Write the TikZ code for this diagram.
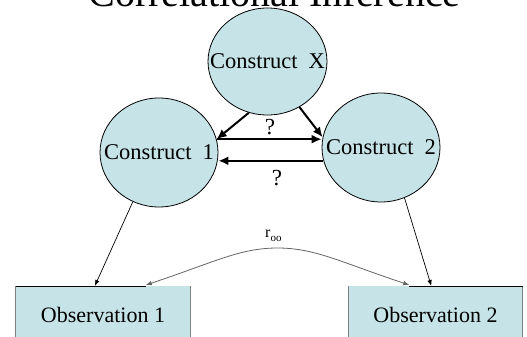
\documentclass[tikz,border=0pt]{standalone}
\usepackage{fontspec}
\setmainfont{Liberation Serif}
\usetikzlibrary{shapes.geometric,arrows.meta,calc}
\definecolor{boxfill}{RGB}{198,228,232}
\definecolor{curvegray}{RGB}{100,100,100}
\definecolor{edgegray}{RGB}{128,128,128}
\begin{document}
\begin{tikzpicture}[x=1pt,y=-1pt,
  construct/.style={ellipse,draw=black,line width=0.8pt,fill=boxfill,inner sep=0pt,
    font=\fontsize{22.5}{24}\selectfont},
  obsbox/.style={rectangle,fill=boxfill,inner sep=0pt,anchor=north,
    minimum width=174pt,minimum height=58pt,font=\fontsize{22}{24}\selectfont},
  bigarrow/.style={line width=2pt,-{Latex[length=10pt,width=9pt]}},
  thinarrow/.style={line width=0.7pt,-{Latex[length=6pt,width=4.5pt]}},
  qlabel/.style={font=\fontsize{23}{24}\selectfont,inner sep=0pt}]
\useasboundingbox (0,0) rectangle (527,337);
\clip (0,0) rectangle (527,337);

\node[anchor=base,font=\fontsize{40}{44}\selectfont,inner sep=0pt] (title) at (274.5,7) {Correlational Inference};

\node[construct,minimum width=119pt,minimum height=107pt] (X) at (267.5,61.5) {\makebox[0pt]{Construct\ \ X}};
\node[construct,minimum width=118pt,minimum height=109pt] (C1) at (159,152.5) {\makebox[0pt]{Construct\ \ 1}};
\node[construct,minimum width=118pt,minimum height=109pt] (C2) at (381,147.5) {\makebox[0pt]{Construct\ \ 2}};

\node[obsbox] (O1) at (103,286) {Observation 1};
\node[obsbox] (O2) at (435.5,286) {Observation 2};

% box edges
\draw[edgegray,line width=0.8pt] (O1.north west) -- (O1.south west);
\draw[edgegray,line width=0.8pt] (O1.north east) -- (O1.south east);
\draw[edgegray,line width=0.8pt] (O2.north west) -- (O2.south west);
\draw[edgegray,line width=0.8pt] (O2.north east) -- (O2.south east);
\coordinate (o1tip) at ($(O1.north west)+(130,0)$);
\coordinate (o2tip) at ($(O2.north west)+(61,0)$);
\draw[black,line width=0.8pt] (O1.north west) -- (o1tip);
\draw[black,line width=0.8pt] (o2tip) -- (O2.north east);

% causal arrows
\draw[bigarrow] (X.250) -- (C1.13);
\draw[bigarrow] (X.305) -- (C2.170);
\draw[bigarrow] (C1.13) -- (C1.13 -| C2.west);
\draw[bigarrow] (C2.193) -- (C2.193 -| C1.east);
\node[qlabel] (q1) at (270,127) {?};
\node[qlabel] (q2) at (277,178) {?};

% construct to observation
\coordinate (o1in) at ($(O1.north west)+(79,0)$);
\coordinate (o2in) at ($(O2.north west)+(83,0)$);
\draw[thinarrow] (C1.242) -- (o1in);
\draw[thinarrow] (C2.295) -- (o2in);

% correlation curve
\coordinate (peak) at (277.5,248);
\draw[curvegray,line width=0.8pt,{Latex[length=6pt,width=4.5pt]}-{Latex[length=6pt,width=4.5pt]}]
  ($(o1tip)+(0,-1)$) .. controls (215,262) and (240,248) .. (peak)
  .. controls (315,248) and (340,262) .. ($(o2tip)+(0,-1)$);
\node[anchor=base west,inner sep=0pt,font=\fontsize{16}{18}\selectfont] (roo) at (265,237)
  {r{\fontsize{11}{12}\selectfont\raisebox{-4pt}{oo}}};
\end{tikzpicture}
\end{document}
